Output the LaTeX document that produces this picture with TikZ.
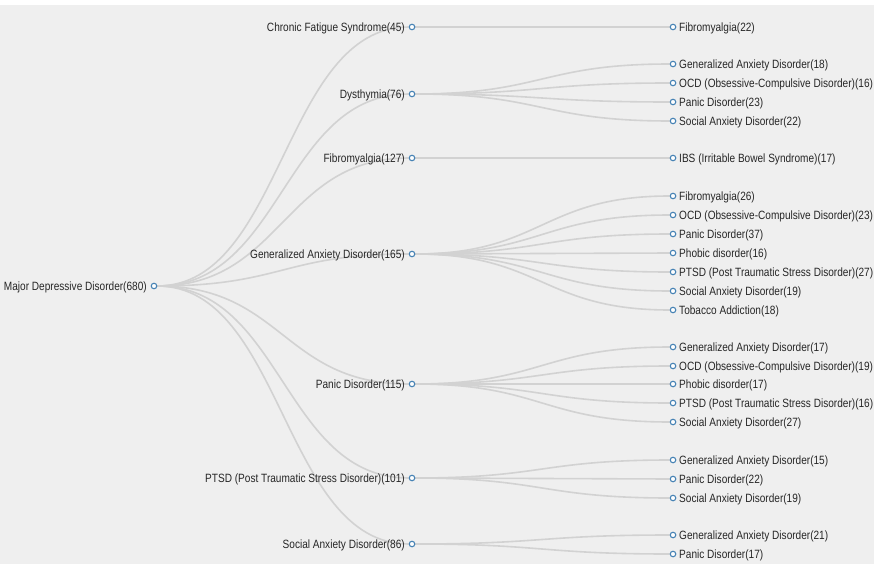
\documentclass[tikz,border=0pt]{standalone}
\usepackage{fontspec}
\setmainfont[FakeStretch=0.84]{Liberation Sans}
\usetikzlibrary{backgrounds}
\definecolor{bggray}{HTML}{EFEFEF}
\definecolor{linkgray}{HTML}{D2D2D2}
\definecolor{dotblue}{HTML}{4682B4}
\definecolor{txtgray}{HTML}{262626}
\tikzset{
  dot/.style={circle,draw=dotblue,fill=white,line width=1.1pt,minimum size=5.5pt,inner sep=0pt},
  lbl/.style={inner sep=0pt,text=txtgray,font=\fontsize{12}{14}\selectfont},
  link/.style={draw=linkgray,line width=1.6pt}
}
\begin{document}
\begin{tikzpicture}[x=1pt,y=-1pt]
\useasboundingbox (0,0) rectangle (874,564);
% page colour under everything
\begin{pgfonlayer}{background}
  \fill[bggray] (0,5) rectangle (874,564);
\end{pgfonlayer}
% root
\node[dot] (mdd) at (154,286) {};
\node[lbl,anchor=base east] (mdd-t) at ([xshift=-7pt,yshift=-4.2pt]mdd.center) {Major Depressive Disorder(680)};
% first level
\foreach \n/\ypos/\t in {cfs/27/Chronic Fatigue Syndrome(45), dys/94/Dysthymia(76),
    fib/158/Fibromyalgia(127), gad/254/Generalized Anxiety Disorder(165),
    pan/384/Panic Disorder(115), ptsd/478/PTSD (Post Traumatic Stress Disorder)(101),
    sad/544/Social Anxiety Disorder(86)} {
  \node[dot] (\n) at (412,\ypos) {};
  \node[lbl,anchor=base east] (\n-t) at ([xshift=-7pt,yshift=-4.2pt]\n.center) {\t};
  \begin{pgfonlayer}{background}
    \draw[link] (mdd) .. controls (283,286) and (283,\ypos) .. (\n);
  \end{pgfonlayer}
}
% second level
\foreach \p/\py/\n/\ypos/\t in {cfs/27/cfs1/27/Fibromyalgia(22),
    dys/94/dys1/64/Generalized Anxiety Disorder(18), dys/94/dys2/83/OCD (Obsessive-Compulsive Disorder)(16),
    dys/94/dys3/102/Panic Disorder(23), dys/94/dys4/121/Social Anxiety Disorder(22),
    fib/158/fib1/158/IBS (Irritable Bowel Syndrome)(17),
    gad/254/gad1/196/Fibromyalgia(26), gad/254/gad2/215/OCD (Obsessive-Compulsive Disorder)(23),
    gad/254/gad3/234/Panic Disorder(37), gad/254/gad4/253/Phobic disorder(16),
    gad/254/gad5/272/PTSD (Post Traumatic Stress Disorder)(27), gad/254/gad6/291/Social Anxiety Disorder(19),
    gad/254/gad7/310/Tobacco Addiction(18),
    pan/384/pan1/347/Generalized Anxiety Disorder(17), pan/384/pan2/366/OCD (Obsessive-Compulsive Disorder)(19),
    pan/384/pan3/384/Phobic disorder(17), pan/384/pan4/403/PTSD (Post Traumatic Stress Disorder)(16),
    pan/384/pan5/422/Social Anxiety Disorder(27),
    ptsd/478/ptsd1/460/Generalized Anxiety Disorder(15), ptsd/478/ptsd2/479/Panic Disorder(22),
    ptsd/478/ptsd3/498/Social Anxiety Disorder(19),
    sad/544/sad1/535/Generalized Anxiety Disorder(21), sad/544/sad2/554/Panic Disorder(17)} {
  \node[dot] (\n) at (673,\ypos) {};
  \node[lbl,anchor=base west] (\n-t) at ([xshift=6pt,yshift=-4.2pt]\n.center) {\t};
  \begin{pgfonlayer}{background}
    \draw[link] (\p) .. controls (542,\py) and (542,\ypos) .. (\n);
  \end{pgfonlayer}
}
\end{tikzpicture}
\end{document}
